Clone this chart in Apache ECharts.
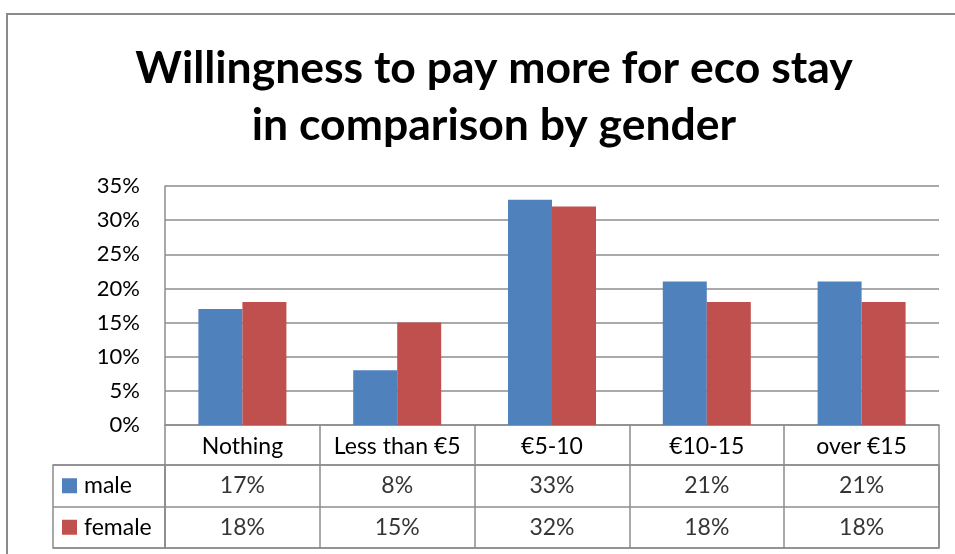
<!DOCTYPE html>
<html>
<head>
<meta charset="utf-8">
<script src="https://cdn.jsdelivr.net/npm/echarts@6/dist/echarts.min.js"></script>
<style>
  html, body { margin: 0; padding: 0; background: #ffffff; }
  #chart { width: 955px; height: 554px; }
</style>
</head>
<body>
<div id="chart"></div>
<script>
// Price bands and share of respondents (in %) per gender
const categories = ['Nothing', 'Less than €5', '€5-10', '€10-15', 'over €15'];
const maleValues = [17, 8, 33, 21, 21];
const femaleValues = [18, 15, 32, 18, 18];
const rowNames = ['male', 'female'];
const yTicks = { min: 0, max: 35, step: 5 };

const MALE_COLOR = '#4F81BD';
const FEMALE_COLOR = '#C0504D';
const LINE = '#8c8c8c';
const FONT = 'Lato';
const TEXT_SIZE = 23;

const chart = echarts.init(document.getElementById('chart'), null, { renderer: 'canvas' });

// Value cells of the data table below the plot
function tableSeries(values, row) {
  return {
    type: 'scatter',
    xAxisIndex: 1,
    yAxisIndex: 1,
    symbol: 'rect',
    symbolSize: 1,
    itemStyle: { color: 'rgba(0,0,0,0)' },
    silent: true,
    label: {
      show: true,
      position: 'inside',
      formatter: p => p.value[2] + '%',
      color: '#000',
      fontFamily: FONT,
      fontSize: TEXT_SIZE
    },
    data: values.map((v, i) => [categories[i], row, v])
  };
}

const option = {
  animation: false,
  backgroundColor: '#ffffff',
  textStyle: { fontFamily: FONT },
  title: {
    text: 'Willingness to pay more for eco stay\nin comparison by gender',
    left: 489,
    textAlign: 'center',
    top: 35,
    textStyle: {
      fontFamily: FONT,
      fontWeight: 'bold',
      fontSize: 44.5,
      lineHeight: 57,
      color: '#000'
    }
  },
  graphic: [{
    type: 'rect',
    silent: true,
    shape: { x: 7, y: 14, width: 1000, height: 600 },
    style: { fill: 'none', stroke: '#8a8a8a', lineWidth: 2 }
  }],
  grid: [
    { left: 165, top: 186, width: 774, height: 239 },
    { left: 165, top: 465, width: 774, height: 83, show: true, borderColor: LINE, borderWidth: 1.5, backgroundColor: 'transparent' },
    { left: 53, top: 465, width: 112, height: 83, show: true, borderColor: LINE, borderWidth: 1.5, backgroundColor: 'transparent' }
  ],
  xAxis: [
    {
      type: 'category',
      gridIndex: 0,
      data: categories,
      axisLine: { lineStyle: { color: LINE, width: 1.5 } },
      axisTick: { show: true, interval: 0, length: 40, lineStyle: { color: LINE, width: 1.5 } },
      axisLabel: { interval: 0, margin: 10, color: '#000', fontFamily: FONT, fontSize: TEXT_SIZE }
    },
    {
      type: 'category',
      gridIndex: 1,
      data: categories,
      axisLine: { show: false },
      axisTick: { show: false },
      axisLabel: { show: false },
      splitLine: { show: true, interval: 0, lineStyle: { color: LINE, width: 1.5 } }
    },
    {
      type: 'value',
      gridIndex: 2,
      show: false
    }
  ],
  yAxis: [
    {
      type: 'value',
      gridIndex: 0,
      min: yTicks.min,
      max: yTicks.max,
      interval: yTicks.step,
      axisLine: { show: true, lineStyle: { color: LINE, width: 1.5 } },
      axisTick: { show: false },
      axisLabel: { formatter: '{value}%', margin: 25, color: '#000', fontFamily: FONT, fontSize: 22 },
      splitLine: { lineStyle: { color: LINE, width: 1.5 } }
    },
    {
      type: 'category',
      gridIndex: 1,
      data: rowNames,
      inverse: true,
      axisLine: { show: false },
      axisTick: { show: false },
      axisLabel: { show: false },
      splitLine: { show: true, interval: 0, lineStyle: { color: LINE, width: 1.5 } }
    },
    {
      type: 'category',
      gridIndex: 2,
      data: rowNames,
      inverse: true,
      axisLine: { show: false },
      axisTick: { show: false },
      splitLine: { show: true, interval: 0, lineStyle: { color: LINE, width: 1.5 } },
      axisLabel: {
        inside: true,
        margin: 9,
        formatter: v => '{' + v + '|}{t|' + v + '}',
        rich: {
          male: { width: 15, height: 15, backgroundColor: MALE_COLOR },
          female: { width: 15, height: 15, backgroundColor: FEMALE_COLOR },
          t: { fontFamily: FONT, fontSize: TEXT_SIZE, color: '#000', padding: [0, 0, 0, 7] }
        }
      }
    }
  ],
  series: [
    {
      name: 'male',
      type: 'bar',
      xAxisIndex: 0,
      yAxisIndex: 0,
      barWidth: 44,
      barGap: '0%',
      itemStyle: { color: MALE_COLOR },
      data: maleValues
    },
    {
      name: 'female',
      type: 'bar',
      xAxisIndex: 0,
      yAxisIndex: 0,
      barWidth: 44,
      barGap: '0%',
      itemStyle: { color: FEMALE_COLOR },
      data: femaleValues
    },
    tableSeries(maleValues, 'male'),
    tableSeries(femaleValues, 'female')
  ]
};

chart.setOption(option);
</script>
</body>
</html>
